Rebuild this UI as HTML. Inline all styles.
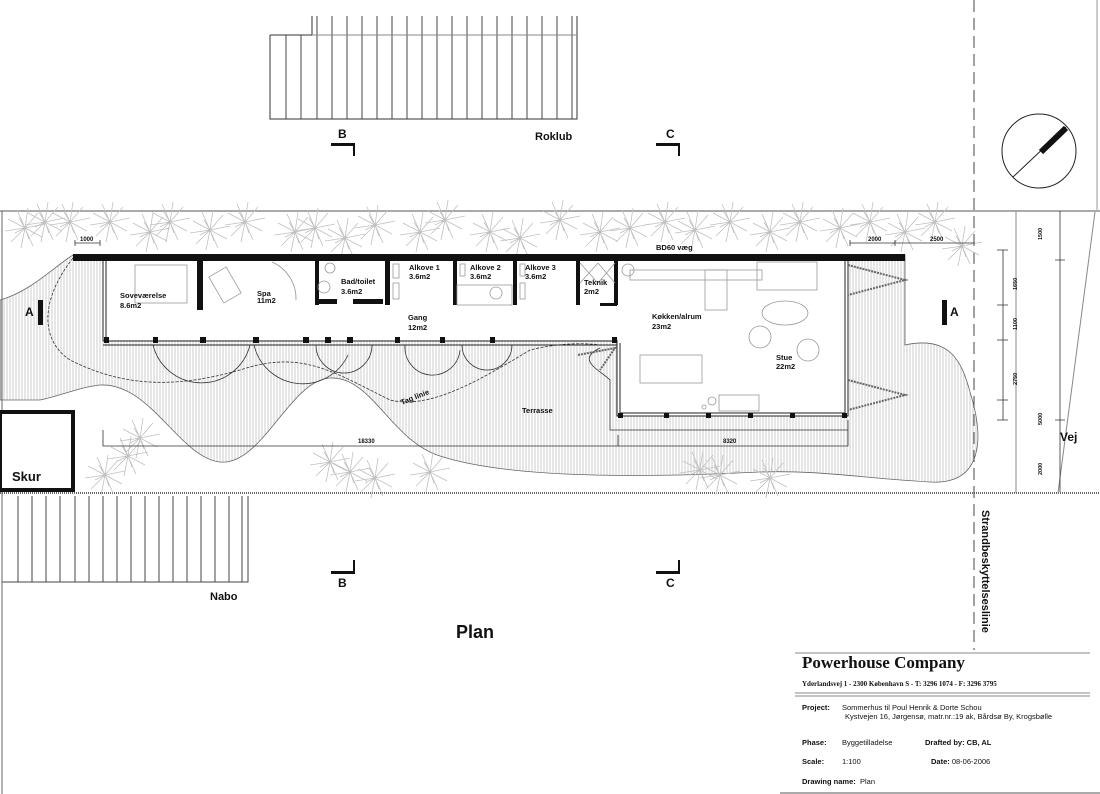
<!DOCTYPE html>
<html><head><meta charset="utf-8"><style>
html,body{margin:0;padding:0;background:#fff}
svg{display:block}
text{font-family:"Liberation Sans",sans-serif;font-weight:bold;fill:#111}
</style></head><body>
<svg width="1100" height="794" viewBox="0 0 1100 794" xmlns="http://www.w3.org/2000/svg">
<defs>
<pattern id="h" width="3" height="10" patternUnits="userSpaceOnUse"><line x1="1" y1="0" x2="1" y2="10" stroke="#ababab" stroke-width="0.6"/></pattern>
<g id="t" stroke="#c0c0c0" stroke-width="0.8" fill="none">
<path d="M0 0L20 -4M0 0L17 9M0 0L8 18M0 0L-4 20M0 0L-14 14M0 0L-20 3M0 0L-17 -9M0 0L-8 -18M0 0L3 -20M0 0L13 -15M0 0L10 -2M0 0L-10 5M0 0L4 11M0 0L-6 -10"/>
</g>
</defs>

<!-- Roklub -->
<g stroke="#333" stroke-width="1" fill="none">
<path d="M270 35H312V16M270 35V119H577V16"/>
<path d="M286 35V119M301 35V119M317 16V119M332 16V119M347 16V119M362 16V119M377 16V119M392 16V119M407 16V119M422 16V119M437 16V119M452 16V119M467 16V119M482 16V119M497 16V119M512 16V119M527 16V119M542 16V119M557 16V119M572 16V119" stroke="#444"/>
<line x1="312" y1="35" x2="577" y2="35" stroke="#888"/>
</g>
<!-- Nabo -->
<g stroke="#444" stroke-width="1" fill="none">
<path d="M2 582H248V496"/>
<path d="M18 496V582M32 496V582M46 496V582M60 496V582M75 496V582M89 496V582M103 496V582M117 496V582M131 496V582M145 496V582M159 496V582M173 496V582M187 496V582M201 496V582M215 496V582M229 496V582M242 496V582"/>
</g>

<!-- plot lines -->
<line x1="0" y1="211" x2="1100" y2="211" stroke="#777" stroke-width="1.2"/>
<line x1="0" y1="493" x2="1100" y2="493" stroke="#666" stroke-width="2" stroke-dasharray="1 1"/>
<line x1="2" y1="211" x2="2" y2="794" stroke="#666"/>
<line x1="974" y1="0" x2="974" y2="650" stroke="#444" stroke-dasharray="12 6"/>
<line x1="1016" y1="211" x2="1016" y2="493" stroke="#888"/>
<line x1="1097" y1="0" x2="1097" y2="210" stroke="#999"/>
<line x1="1095" y1="212" x2="1058" y2="493" stroke="#888"/>

<!-- terrace hatch -->
<path d="M73 255L905 255L905 345C950 335 962 362 970 392C985 440 982 485 930 482C860 478 820 470 760 472C680 476 520 482 440 456C390 440 372 376 330 378C290 380 262 466 220 462C180 458 150 382 100 385C80 387 60 396 40 400L0 400L0 300C30 292 55 266 73 255Z" fill="url(#h)" stroke="#666" stroke-width="0.8"/>

<!-- trees -->
<g>
<use href="#t" x="25" y="228"/><use href="#t" x="45" y="222"/><use href="#t" x="70" y="222"/><use href="#t" x="110" y="222"/><use href="#t" x="150" y="232"/><use href="#t" x="170" y="222"/><use href="#t" x="210" y="230"/><use href="#t" x="245" y="222"/><use href="#t" x="295" y="232"/><use href="#t" x="315" y="228"/><use href="#t" x="345" y="238"/><use href="#t" x="375" y="225"/><use href="#t" x="420" y="232"/><use href="#t" x="445" y="220"/><use href="#t" x="490" y="232"/><use href="#t" x="520" y="238"/><use href="#t" x="560" y="220"/><use href="#t" x="600" y="232"/><use href="#t" x="630" y="228"/><use href="#t" x="665" y="222"/><use href="#t" x="695" y="230"/><use href="#t" x="730" y="222"/><use href="#t" x="770" y="232"/><use href="#t" x="800" y="222"/><use href="#t" x="840" y="228"/><use href="#t" x="870" y="222"/><use href="#t" x="905" y="232"/><use href="#t" x="935" y="222"/><use href="#t" x="962" y="246"/>
<use href="#t" x="140" y="438"/><use href="#t" x="128" y="456"/><use href="#t" x="105" y="475"/><use href="#t" x="330" y="462"/><use href="#t" x="350" y="472"/><use href="#t" x="375" y="478"/><use href="#t" x="430" y="472"/><use href="#t" x="700" y="470"/><use href="#t" x="720" y="475"/><use href="#t" x="770" y="478"/>
</g>

<!-- building interior -->
<rect x="103" y="260" width="514" height="80" fill="#fff"/>
<rect x="617" y="260" width="231" height="156" fill="#fff"/>
<rect x="73" y="254" width="832" height="7" fill="#111"/>
<g fill="none" stroke="#222" stroke-width="1">
<path d="M103 261V341M106 261V341M103 341H617M103 345H617"/>
<path d="M617 340V416H848V261M620 343V413H845V261M617 416H848"/>
</g>
<g fill="#111">
<rect x="197" y="260" width="6" height="50"/>
<rect x="315" y="260" width="4" height="45"/><rect x="315" y="299" width="22" height="5"/>
<rect x="385" y="260" width="5" height="45"/><rect x="353" y="299" width="30" height="5"/>
<rect x="453" y="260" width="4" height="45"/>
<rect x="513" y="260" width="4" height="45"/>
<rect x="576" y="260" width="4" height="45"/><rect x="600" y="303" width="17" height="3"/>
<rect x="614" y="260" width="4" height="45"/>
<rect x="104" y="337" width="5" height="6"/><rect x="153" y="337" width="5" height="6"/><rect x="200" y="337" width="6" height="6"/><rect x="253" y="337" width="6" height="6"/><rect x="303" y="337" width="6" height="6"/><rect x="325" y="337" width="6" height="6"/><rect x="347" y="337" width="6" height="6"/><rect x="395" y="337" width="5" height="6"/><rect x="440" y="337" width="5" height="6"/><rect x="490" y="337" width="5" height="6"/><rect x="612" y="337" width="5" height="6"/>
<rect x="618" y="413" width="5" height="5"/><rect x="664" y="413" width="5" height="5"/><rect x="706" y="413" width="5" height="5"/><rect x="748" y="413" width="5" height="5"/><rect x="790" y="413" width="5" height="5"/><rect x="842" y="413" width="5" height="5"/>
</g>
<!-- furniture -->
<g fill="none" stroke="#999" stroke-width="0.8">
<rect x="135" y="265" width="52" height="38"/>
<rect x="215" y="270" width="20" height="30" transform="rotate(-30 225 285)"/>
<path d="M272 262A40 40 0 0 1 296 300"/>
<circle cx="330" cy="268" r="5"/><circle cx="324" cy="287" r="6"/>
<rect x="393" y="264" width="6" height="14"/><rect x="393" y="283" width="6" height="16"/>
<rect x="460" y="264" width="5" height="12"/><rect x="457" y="285" width="55" height="20"/><circle cx="496" cy="293" r="6"/>
<rect x="520" y="264" width="5" height="12"/><rect x="520" y="283" width="5" height="16"/>
<path d="M580 263L598 283M598 263L580 283M598 263L615 283M615 263L598 283"/>
<circle cx="628" cy="270" r="6"/><rect x="630" y="270" width="132" height="10"/><rect x="705" y="270" width="22" height="40"/>
<rect x="757" y="262" width="60" height="28"/><ellipse cx="785" cy="313" rx="23" ry="12"/>
<circle cx="760" cy="337" r="11"/><circle cx="808" cy="350" r="11"/>
<rect x="640" y="355" width="62" height="28"/><rect x="719" y="395" width="40" height="16"/>
<circle cx="712" cy="401" r="4"/><circle cx="704" cy="407" r="2"/>
</g>
<!-- door arcs / tag linie -->
<g fill="none" stroke="#333" stroke-width="0.8">
<path d="M153 345A50 50 0 0 0 250 345M254 345A50 50 0 0 0 348 355M316 345A28 28 0 0 0 372 345M405 345A25 25 0 0 0 460 350M462 345A25 25 0 0 0 512 345"/>
<path d="M73 258C40 300 40 340 70 360C120 385 170 390 240 370C300 350 330 370 390 400C430 410 480 380 530 350C570 340 600 345 600 345" stroke-dasharray="3 1.5"/>
<path d="M600 348C575 360 600 370 610 380V430H848V420" />
<path d="M848 265L905 280L848 295M848 380L905 395L848 410" stroke="#666" stroke-width="2" stroke-dasharray="2 1"/>
<path d="M578 355L615 348L600 370" stroke="#666" stroke-width="2" stroke-dasharray="2 1"/>
</g>
<!-- skur -->
<rect x="0" y="412" width="73" height="78" fill="#fff" stroke="#111" stroke-width="4"/>
<!-- dimensions -->
<g stroke="#333" stroke-width="0.8" fill="none">
<path d="M103 430V446H848V430M618 435V446"/>
<path d="M75 243H100M75 240V246M100 240V246M850 243H975M850 240V246M895 240V246"/>
<path d="M1003 250V420M1060 211V492M997 250H1008M997 305H1008M997 340H1008M997 400H1008M997 420H1008M1055 260H1065M1055 420H1065"/>
</g>
<g font-size="6" style="font-weight:normal">
<text x="80" y="241">1000</text><text x="358" y="443">18330</text><text x="723" y="443">8320</text>
<text x="868" y="241">2000</text><text x="930" y="241">2500</text>
</g>
<!-- section markers -->
<g fill="#111">
<rect x="331" y="143" width="24" height="3"/><rect x="353" y="143" width="2" height="13"/>
<rect x="656" y="143" width="24" height="3"/><rect x="678" y="143" width="2" height="13"/>
<rect x="331" y="571" width="24" height="3"/><rect x="353" y="560" width="2" height="13"/>
<rect x="656" y="571" width="24" height="3"/><rect x="678" y="560" width="2" height="13"/>
<rect x="38" y="300" width="5" height="25"/><rect x="942" y="300" width="5" height="25"/>
</g>
<!-- compass -->
<circle cx="1039" cy="151" r="37" fill="none" stroke="#222"/>
<line x1="1013" y1="177" x2="1066" y2="127" stroke="#222"/>
<line x1="1041" y1="152" x2="1066" y2="128" stroke="#111" stroke-width="6"/>
<!-- labels -->
<g font-size="12">
<text x="338" y="138">B</text><text x="666" y="138">C</text><text x="338" y="587">B</text><text x="666" y="587">C</text>
<text x="25" y="316">A</text><text x="950" y="316">A</text>
<text x="535" y="140" font-size="11">Roklub</text>
<text x="210" y="600" font-size="11">Nabo</text>
<text x="12" y="481" font-size="13">Skur</text>
<text x="1060" y="441" font-size="12">Vej</text>
</g>
<g font-size="7.5">
<text x="120" y="298">Soveværelse</text><text x="120" y="308">8.6m2</text>
<text x="257" y="296">Spa</text><text x="257" y="303">11m2</text>
<text x="341" y="284">Bad/toilet</text><text x="341" y="294">3.6m2</text>
<text x="409" y="270">Alkove 1</text><text x="409" y="279">3.6m2</text>
<text x="470" y="270">Alkove 2</text><text x="470" y="279">3.6m2</text>
<text x="525" y="270">Alkove 3</text><text x="525" y="279">3.6m2</text>
<text x="584" y="285">Teknik</text><text x="584" y="294">2m2</text>
<text x="408" y="320">Gang</text><text x="408" y="330">12m2</text>
<text x="652" y="319">Køkken/alrum</text><text x="652" y="329">23m2</text>
<text x="776" y="360">Stue</text><text x="776" y="369">22m2</text>
<text x="656" y="250">BD60 væg</text>
<text x="522" y="413">Terrasse</text>
<text x="402" y="405" transform="rotate(-22 402 405)">Tag linie</text>
</g>
<text x="0" y="0" font-size="11" transform="translate(982 510) rotate(90)">Strandbeskyttelseslinie</text>
<g font-size="5.5" style="font-weight:normal">
<text transform="translate(1042 240) rotate(-90)">1500</text><text transform="translate(1042 425) rotate(-90)">5000</text><text transform="translate(1042 475) rotate(-90)">2000</text>
<text transform="translate(1017 290) rotate(-90)">1650</text><text transform="translate(1017 330) rotate(-90)">1100</text><text transform="translate(1017 385) rotate(-90)">2750</text>
</g>
<text x="456" y="638" font-size="18">Plan</text>
<!-- title block -->
<g stroke="#888" stroke-width="1">
<line x1="795" y1="653" x2="1090" y2="653"/>
<line x1="795" y1="693" x2="1090" y2="693"/><line x1="795" y1="696" x2="1090" y2="696"/>
<line x1="780" y1="793" x2="1100" y2="793" stroke="#555"/>
</g>
<text x="802" y="668" font-size="17" style="font-family:'Liberation Serif',serif">Powerhouse Company</text>
<text x="802" y="686" font-size="7" style="font-family:'Liberation Serif',serif">Yderlandsvej 1 - 2300 København S - T: 3296 1074 - F:  3296 3795</text>
<g font-size="7.5">
<text x="802" y="710">Project:</text><text x="802" y="745">Phase:</text><text x="802" y="764">Scale:</text><text x="802" y="784">Drawing name:</text>
<text x="925" y="745">Drafted by:  CB, AL</text><text x="931" y="764">Date: <tspan style="font-weight:normal">08-06-2006</tspan></text>
</g>
<g font-size="7.5" style="font-weight:normal">
<text x="842" y="710" style="font-weight:normal">Sommerhus til Poul Henrik &amp; Dorte Schou</text>
<text x="845" y="719" style="font-weight:normal">Kystvejen 16, Jørgensø, matr.nr.:19 ak, Bårdsø By, Krogsbølle</text>
<text x="842" y="745" style="font-weight:normal">Byggetilladelse</text>
<text x="842" y="764" style="font-weight:normal">1:100</text>
<text x="860" y="784" style="font-weight:normal">Plan</text>
</g>
</svg>
</body></html>
